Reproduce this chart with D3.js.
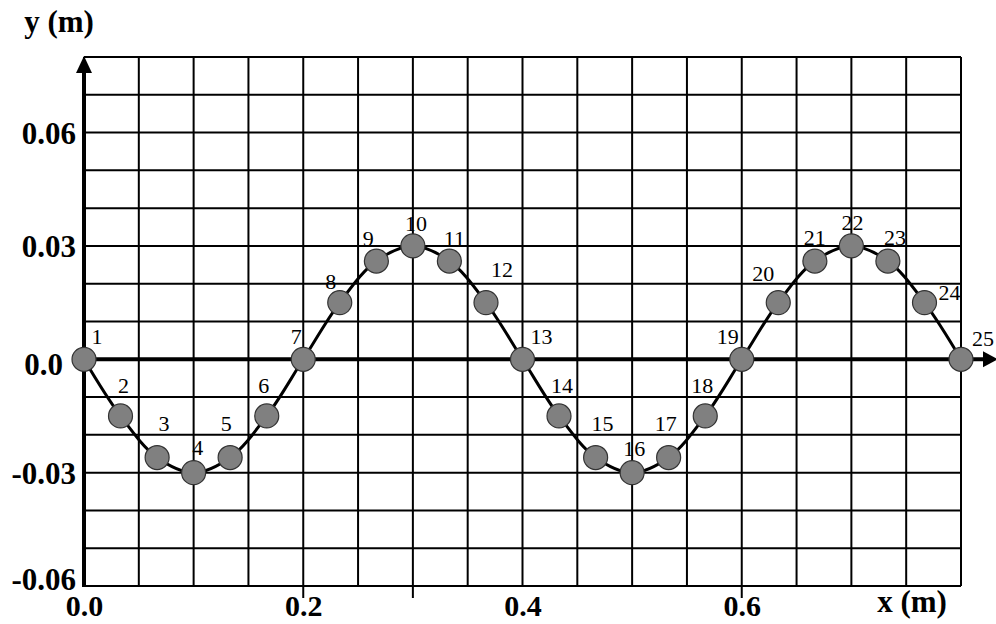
<!DOCTYPE html>
<html><head><meta charset="utf-8">
<script src="https://cdn.jsdelivr.net/npm/d3@7/dist/d3.min.js"></script>
<style>
html,body{margin:0;padding:0;background:#fff;}
svg{display:block;}
</style></head>
<body>
<svg id="chart" width="996" height="624"></svg>
<script>
// ---- data ----
const pointLabels = ["1","2","3","4","5","6","7","8","9","10","11","12","13","14","15","16","17","18","19","20","21","22","23","24","25"];
const xValues = [0, 0.0333, 0.0667, 0.1, 0.1333, 0.1667, 0.2, 0.2333, 0.2667, 0.3, 0.3333, 0.3667, 0.4,
                 0.4333, 0.4667, 0.5, 0.5333, 0.5667, 0.6, 0.6333, 0.6667, 0.7, 0.7333, 0.7667, 0.8];
const yValues = [0, -0.015, -0.026, -0.030, -0.026, -0.015, 0, 0.015, 0.026, 0.030, 0.026, 0.015, 0,
                 -0.015, -0.026, -0.030, -0.026, -0.015, 0, 0.015, 0.026, 0.030, 0.026, 0.015, 0];
const xTickValues = [0, 0.2, 0.4, 0.6];
const xTickLabels = ["0.0", "0.2", "0.4", "0.6"];
const yTickValues = [0.06, 0.03, 0, -0.03, -0.06];
const yTickLabels = ["0.06", "0.03", "0.0", "-0.03", "-0.06"];
const xMarkValues = [0.2, 0.3, 0.6];
const xAxisTitle = "x (m)";
const yAxisTitle = "y (m)";

// ---- layout (label offsets in px relative to each point) ----
const labelOffsets = [[13,-15],[3,-23],[7,-27],[4,-18],[-4,-27],[-3,-23],[-7,-15],[-9,-14],[-8,-15],[3,-15],[5,-15],[16,-26],[19,-15],
                      [3,-23],[7,-27],[2,-17],[-3,-27],[-3,-23],[-14,-15],[-15,-22],[0,-16],[1,-16],[7,-16],[25,-3],[22,-13]];

const svg = d3.select("#chart");
const x = d3.scaleLinear().domain([0, 0.8]).range([84, 961]);
const y = d3.scaleLinear().domain([-0.06, 0.08]).range([586, 57]);
const serif = "'Liberation Serif','Times New Roman',serif";

// grid
const g = svg.append("g");
g.selectAll("line.v").data(d3.range(0, 17)).join("line")
  .attr("x1", d => x(d * 0.05)).attr("x2", d => x(d * 0.05))
  .attr("y1", y(0.08)).attr("y2", y(-0.06))
  .attr("stroke", "#000").attr("stroke-width", 2);
g.selectAll("line.h").data(d3.range(0, 15)).join("line")
  .attr("x1", x(0)).attr("x2", x(0.8))
  .attr("y1", d => y(-0.06 + d * 0.01)).attr("y2", d => y(-0.06 + d * 0.01))
  .attr("stroke", "#000").attr("stroke-width", 2);

// small ticks below bottom edge
g.selectAll("line.m").data(xMarkValues).join("line")
  .attr("x1", d => x(d)).attr("x2", d => x(d))
  .attr("y1", y(-0.06)).attr("y2", y(-0.06) + 12)
  .attr("stroke", "#000").attr("stroke-width", 2);

// axes lines with arrows
svg.append("line").attr("x1", x(0)).attr("x2", x(0)).attr("y1", y(-0.06) + 1).attr("y2", 70)
  .attr("stroke", "#000").attr("stroke-width", 4);
svg.append("path").attr("d", `M${x(0)},56 L${x(0)-8},73 L${x(0)+8},73 Z`).attr("fill", "#000");
svg.append("line").attr("x1", x(0) - 1).attr("x2", 985).attr("y1", y(0)).attr("y2", y(0))
  .attr("stroke", "#000").attr("stroke-width", 4);
svg.append("path").attr("d", `M998,${y(0)} L983,${y(0)-8} L983,${y(0)+8} Z`).attr("fill", "#000");

// tick labels via d3 axes
const yAxis = d3.axisLeft(y).tickValues(yTickValues).tickSize(0).tickPadding(8)
  .tickFormat((d, i) => yTickLabels[i]);
const ya = svg.append("g").attr("transform", `translate(${x(0)},0)`).call(yAxis);
ya.select(".domain").remove();
ya.selectAll("text").attr("font-family", serif).attr("font-weight", "bold")
  .attr("font-size", 31).attr("fill", "#000").attr("dy", "0.35em");
ya.selectAll(".tick").filter(d => d === -0.06).select("text").attr("dy", "0.12em");
ya.selectAll(".tick").filter(d => d === 0).select("text").attr("x", -21).attr("dy", "0.5em");

const xAxis = d3.axisBottom(x).tickValues(xTickValues).tickSize(0).tickPadding(0)
  .tickFormat((d, i) => xTickLabels[i]);
const xa = svg.append("g").attr("transform", `translate(0,616)`).call(xAxis);
xa.select(".domain").remove();
xa.selectAll("text").attr("font-family", serif).attr("font-weight", "bold")
  .attr("font-size", 30).attr("fill", "#000").attr("dy", "0").attr("y", 0);

// axis titles
svg.append("text").attr("x", 912).attr("y", 612).attr("text-anchor", "middle")
  .attr("font-family", serif).attr("font-weight", "bold").attr("font-size", 31).text(xAxisTitle);
svg.append("text").attr("x", 59).attr("y", 32).attr("text-anchor", "middle")
  .attr("font-family", serif).attr("font-weight", "bold").attr("font-size", 31).text(yAxisTitle);

// curve
const pts = xValues.map((v, i) => [v, yValues[i]]);
svg.append("path").datum(pts)
  .attr("d", d3.line().x(d => x(d[0])).y(d => y(d[1])).curve(d3.curveCatmullRom.alpha(0.5)))
  .attr("fill", "none").attr("stroke", "#000").attr("stroke-width", 3);

// points
svg.selectAll("circle.p").data(pts).join("circle")
  .attr("cx", d => x(d[0])).attr("cy", d => y(d[1])).attr("r", 12)
  .attr("fill", "#808080").attr("stroke", "#333").attr("stroke-width", 1.2);

// point labels
svg.selectAll("text.pl").data(pts).join("text")
  .attr("x", (d, i) => x(d[0]) + labelOffsets[i][0])
  .attr("y", (d, i) => y(d[1]) + labelOffsets[i][1])
  .attr("text-anchor", "middle").attr("font-family", serif).attr("font-size", 22).attr("fill", "#000")
  .text((d, i) => pointLabels[i]);
</script>
</body></html>
